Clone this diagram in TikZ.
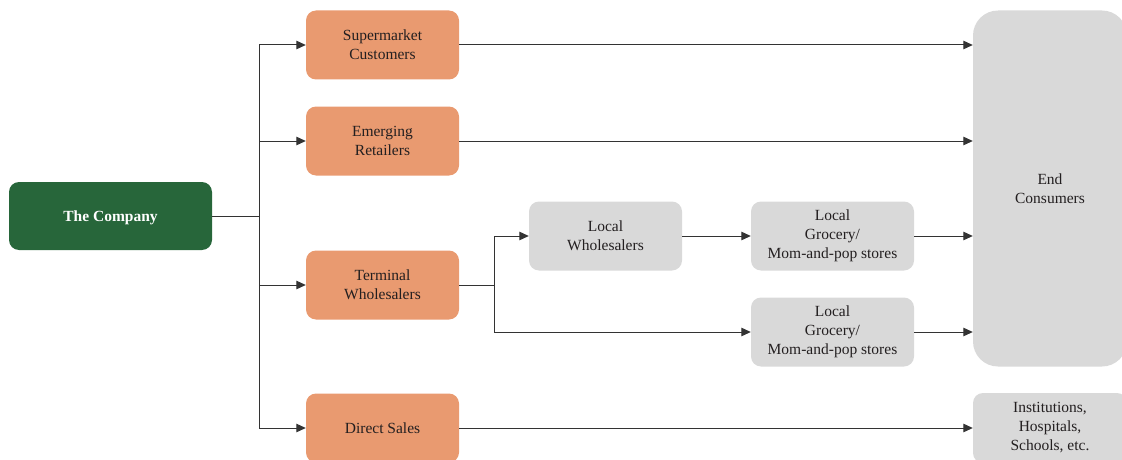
\documentclass[tikz,border=0pt]{standalone}
\usepackage{fontspec}
\setmainfont{Liberation Serif}
\usetikzlibrary{arrows.meta}
\definecolor{cogreen}{HTML}{27663A}
\definecolor{orbox}{HTML}{E99A70}
\definecolor{grbox}{HTML}{D9D9D9}
\definecolor{txt}{HTML}{231F20}
\definecolor{ln}{HTML}{333333}
\tikzset{
  base/.style={rounded corners=10pt, align=center, inner sep=0pt, text=txt,
    font=\fontsize{15.5}{19}\selectfont},
  orn/.style={base, fill=orbox, minimum width=153pt, minimum height=69pt},
  gry/.style={base, fill=grbox, minimum height=69pt},
  conn/.style={draw=ln, line width=1pt},
  arr/.style={conn, -{Triangle[length=9.5pt,width=8.5pt]}}
}
\begin{document}
\begin{tikzpicture}[x=1pt,y=-1pt]
\useasboundingbox (0,0) rectangle (1122,460);
\clip (0,0) rectangle (1122,460);
\node[base, fill=cogreen, text=white, minimum width=203pt, minimum height=68pt, text height=11.5pt, text depth=0pt, font=\fontsize{15.5}{19}\selectfont\bfseries] (co) at (110.5,216) {The Company};
\node[orn] (sup) at (382.5,45) {Supermarket\\Customers};
\node[orn] (er) at (382.5,141) {Emerging\\Retailers};
\node[orn] (tw) at (382.5,285) {Terminal\\Wholesalers};
\node[orn] (ds) at (382.5,428) {Direct Sales};
\node[gry, minimum width=153pt] (lw) at (605.5,236) {Local\\Wholesalers};
\node[gry, minimum width=163pt] (lg1) at (832.5,236) {Local\\Grocery/\\Mom-and-pop stores};
\node[gry, minimum width=163pt] (lg2) at (832.5,332) {Local\\Grocery/\\Mom-and-pop stores};
\node[base, fill=grbox, rounded corners=25pt, minimum width=154pt, minimum height=356pt] (ec) at (1050,188.5) {End\\Consumers};
\node[gry, minimum width=154pt, minimum height=70pt] (ins) at (1050,428) {Institutions,\\Hospitals,\\Schools, etc.};
\coordinate (tr) at (259,216);
\coordinate (tb) at (494,285);
\draw[arr] (co.east) -- (tr) |- (sup.west);
\draw[arr] (co.east) -- (tr) |- (er.west);
\draw[arr] (co.east) -- (tr) |- (tw.west);
\draw[arr] (co.east) -- (tr) |- (ds.west);
\draw[arr] (sup.east) -- (sup.east -| ec.west);
\draw[arr] (er.east) -- (er.east -| ec.west);
\draw[arr] (tw.east) -- (tb) |- (lw.west);
\draw[arr] (tw.east) -- (tb) |- (lg2.west);
\draw[arr] (lw.east) -- (lg1.west);
\draw[arr] (lg1.east) -- (lg1.east -| ec.west);
\draw[arr] (lg2.east) -- (lg2.east -| ec.west);
\draw[arr] (ds.east) -- (ins.west);
\end{tikzpicture}
\end{document}
